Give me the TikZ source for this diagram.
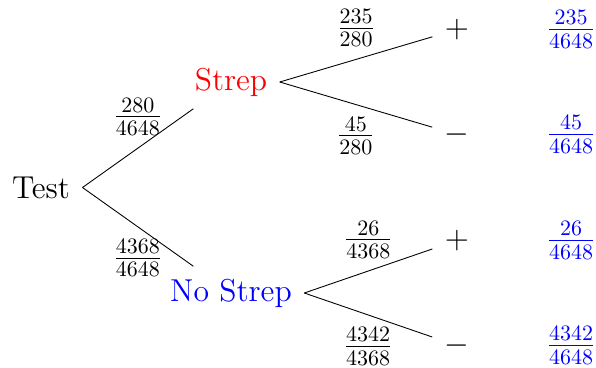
\documentclass[tikz,border=0pt]{standalone}
\usetikzlibrary{calc}
\begin{document}
\begin{tikzpicture}[x=0.4545pt,y=-0.4545pt,
  every node/.style={font=\Large, inner sep=5.5pt},
  branch/.style={draw=black, line width=0.4pt},
  result/.style={text=blue, anchor=base}]
\useasboundingbox (0,0) rectangle (596,367);
% nodes
\node (test) at (41,187.5) {Test};
\node[text=red] (strep) at (231,82) {Strep};
\node[text=blue] (nostrep) at (231,293) {No Strep};
\node (p1) at (457,29.5) {$+$};
\node (m1) at (457,134.5) {$-$};
\node (p2) at (457,240.5) {$+$};
\node (m2) at (457,345.5) {$-$};
% connectors with probabilities
\draw[branch] (test.east) -- (strep) node[midway,above] (l1) {$\frac{280}{4648}$};
\draw[branch] (test.east) -- (nostrep) node[midway,below] (l2) {$\frac{4368}{4648}$};
\draw[branch] (strep.east) -- (p1) node[midway,above] (l3) {$\frac{235}{280}$};
\draw[branch] (strep.east) -- (m1) node[midway,below] (l4) {$\frac{45}{280}$};
\draw[branch] (nostrep.east) -- (p2) node[midway,above] (l5) {$\frac{26}{4368}$};
\draw[branch] (nostrep.east) -- (m2) node[midway,below] (l6) {$\frac{4342}{4368}$};
% joint probabilities
\node[result] (r1) at ($(p1.base)+(114,0)$) {$\frac{235}{4648}$};
\node[result] (r2) at ($(m1.base)+(114,0)$) {$\frac{45}{4648}$};
\node[result] (r3) at ($(p2.base)+(114,0)$) {$\frac{26}{4648}$};
\node[result] (r4) at ($(m2.base)+(114,0)$) {$\frac{4342}{4648}$};
\end{tikzpicture}
\end{document}
